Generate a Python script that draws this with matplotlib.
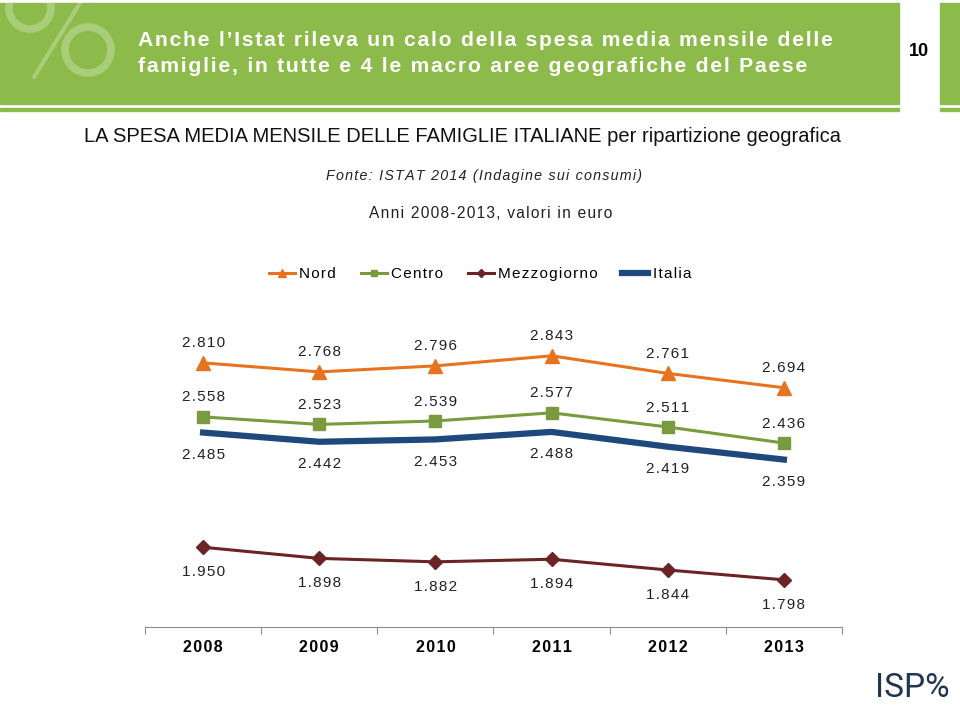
import matplotlib.pyplot as plt
from matplotlib.patches import Rectangle, Circle

anni = ['2008', '2009', '2010', '2011', '2012', '2013']
nord = [2810, 2768, 2796, 2843, 2761, 2694]
centro = [2558, 2523, 2539, 2577, 2511, 2436]
mezzogiorno = [1950, 1898, 1882, 1894, 1844, 1798]
italia = [2485, 2442, 2453, 2488, 2419, 2359]

verde = '#8dbb4b'

plt.rcParams['font.family'] = ['Liberation Sans', 'DejaVu Sans']


def sp(s):
    # spaziatura tra le lettere come nella slide originale
    return '\u200a'.join(s)


fig = plt.figure(figsize=(9.6, 7.1), dpi=100)

# sfondo in coordinate pixel per intestazione e testi
bg = fig.add_axes([0, 0, 1, 1], zorder=0)
bg.set_xlim(0, 960)
bg.set_ylim(710, 0)
bg.axis('off')

banner = Rectangle((0, 3), 899, 101, color=verde)
bg.add_patch(banner)
bg.add_patch(Rectangle((940, 3), 20, 101, color=verde))
bg.add_patch(Rectangle((0, 108), 899, 3, color=verde))
bg.add_patch(Rectangle((940, 108), 20, 3, color=verde))

# simbolo % decorativo
chiaro = '#a9cd79'
for c in [Circle((30, 8), 21, fill=False, lw=5.5, color=chiaro),
          Circle((88, 50), 23, fill=False, lw=5.5, color=chiaro)]:
    bg.add_patch(c)
    c.set_clip_path(banner)
l, = bg.plot([34, 80], [77, 3], color=chiaro, lw=3, solid_capstyle='round')
l.set_clip_path(banner)

bg.text(138, 40, sp("Anche l’Istat rileva un calo della spesa media mensile delle"),
        fontsize=15.2, weight='bold', color='white', va='center')
bg.text(138, 67, sp("famiglie, in tutte e 4 le macro aree geografiche del Paese"),
        fontsize=15.2, weight='bold', color='white', va='center')
bg.text(919, 52, '10', fontsize=13, weight='bold', color='black', ha='center', va='center')

bg.text(462, 137, 'LA SPESA MEDIA MENSILE DELLE FAMIGLIE ITALIANE per ripartizione geografica',
        fontsize=14.5, ha='center', va='center', color='#111111')
bg.text(484, 176, sp('Fonte: ISTAT 2014 (Indagine sui consumi)'), fontsize=10.3,
        style='italic', ha='center', va='center', color='#222222')
bg.text(491, 214, sp('Anni 2008-2013, valori in euro'), fontsize=11.2,
        ha='center', va='center', color='#222222')

bg.text(912, 688, 'ISP%', fontsize=24, family='Roboto',
        color='#1f3550', ha='center', va='center')

ax = fig.add_axes([145 / 960, 1 - 627 / 710, 697 / 960, 307 / 710], zorder=1)
ax.patch.set_alpha(0)

x = range(len(anni))
serie = [
    ('Nord', nord, '#e8731e', '^', 10, 2.2, 14),
    ('Centro', centro, '#7a9a3f', 's', 8, 2.2, 14),
    ('Mezzogiorno', mezzogiorno, '#6b2326', 'D', 7, 2.2, -18),
    ('Italia', italia, '#1f497d', None, 0, 4.5, -16),
]
for nome, val, col, mk, ms, lw, off in serie:
    ax.plot(x, val, color=col, marker=mk, markersize=ms, linewidth=lw, label=sp(nome))
    for xi, v in zip(x, val):
        ax.annotate(sp(f'{v:,}'.replace(',', '.')), (xi, v), xytext=(0, off),
                    textcoords='offset points', ha='center', va='center',
                    fontsize=11, color='#222222')

ax.set_xlim(-0.5, 5.5)
ax.set_ylim(1578, 3010)
ax.set_yticks([])
for s in ['left', 'right', 'top']:
    ax.spines[s].set_visible(False)
ax.spines['bottom'].set_color('#8c8c8c')
ax.set_xticks([i - 0.5 for i in range(7)])
ax.set_xticklabels([])
ax.tick_params(axis='x', which='major', length=5, color='#8c8c8c')
ax.set_xticks(list(x), minor=True)
ax.set_xticklabels([sp(a) for a in anni], minor=True, fontsize=11.5, weight='bold')
ax.tick_params(axis='x', which='minor', length=0, pad=9)

fig.legend(loc='center', bbox_to_anchor=(480 / 960, 1 - 274 / 710), ncol=4,
           frameon=False, fontsize=11, handlelength=1.7, handletextpad=0.3,
           columnspacing=1.6, markerscale=0.6)

fig.savefig('out.png', dpi=100)
